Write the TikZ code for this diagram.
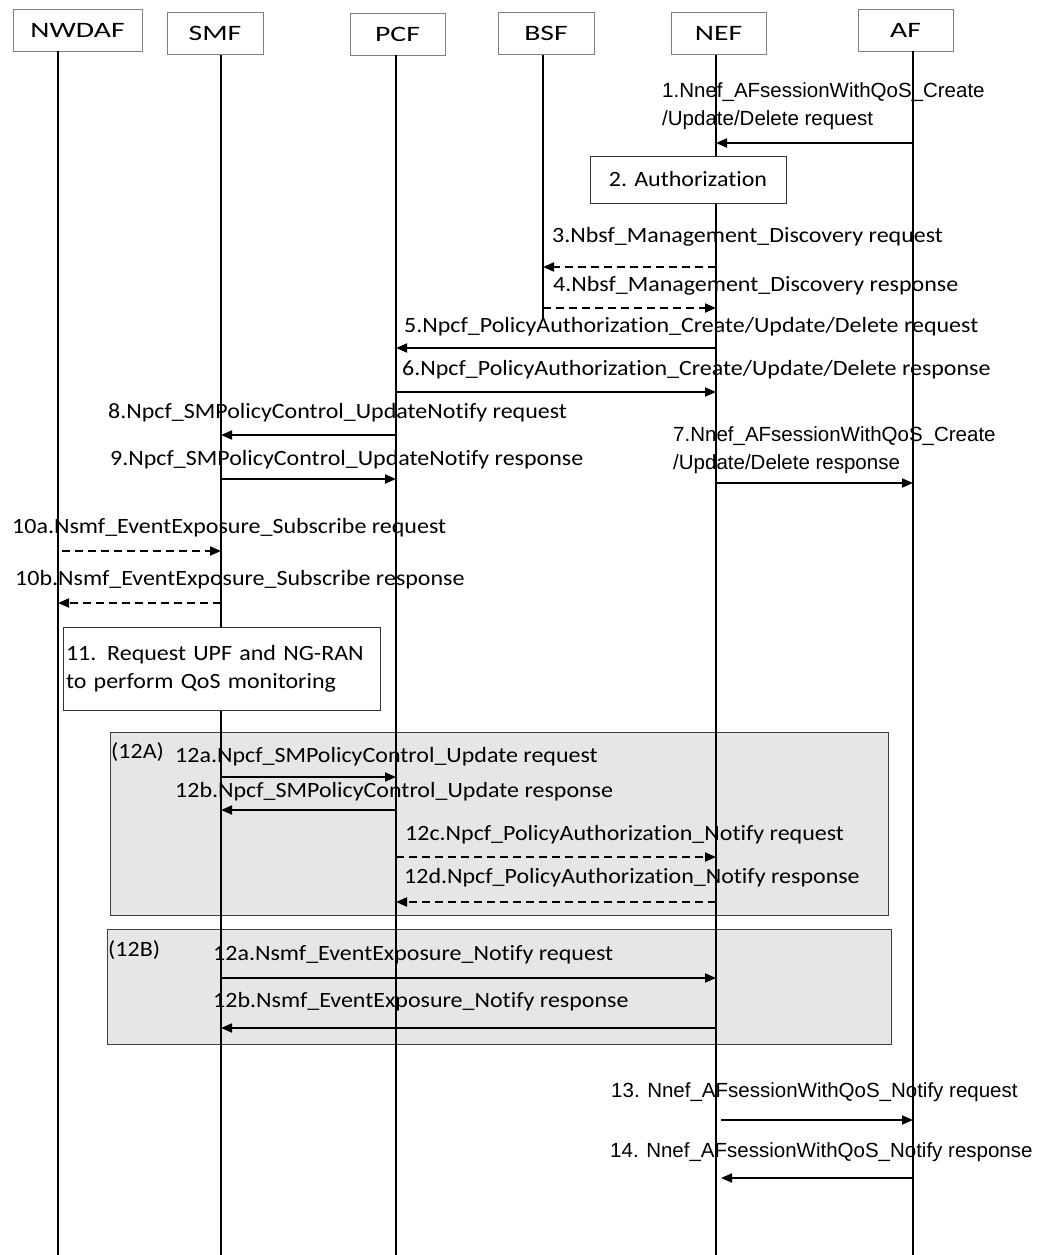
\documentclass[tikz,border=0pt]{standalone}
\usepackage{fontspec}
\setmainfont{Carlito}[FakeStretch=1.1,Ligatures=CommonOff]
\newfontfamily\arialf{Liberation Sans}
\newfontfamily\hdrf{Carlito}[FakeStretch=1.35,Ligatures=CommonOff]
\usetikzlibrary{arrows.meta,calc}
\definecolor{inkc}{HTML}{000000}
\definecolor{framec}{HTML}{808080}
\definecolor{groupc}{HTML}{E6E6E6}
\newcommand{\fs}{\fontsize{21.8}{28}\selectfont}
\tikzset{
  hdr/.style  ={draw=framec,line width=.8pt,fill=white,minimum height=42pt,
                inner sep=0pt,font=\hdrf\fontsize{22}{24}\selectfont},
  procb/.style={draw=inkc!80,line width=.8pt,fill=white,font=\fs},
  grp/.style  ={draw=inkc!75,line width=.8pt,fill=groupc},
  life/.style ={draw=inkc,line width=1.4pt},
  msgl/.style ={font=\fs,inner sep=0pt,anchor=west},
  msgA/.style ={font=\arialf\fontsize{20.5}{28}\selectfont,inner sep=0pt,anchor=west,align=left},
  ar/.style   ={-{Triangle[length=11pt,width=9pt]},draw=inkc,line width=1.8pt},
  arD/.style  ={ar,dash pattern=on 8pt off 5pt},
}

\begin{document}
\begin{tikzpicture}[x=1pt,y=-1pt]
\useasboundingbox[fill=white] (0,0) rectangle (1039,1255);

% ---- lifeline positions --------------------------------------------------
\coordinate (lNW) at (58,0);
\coordinate (lSM) at (221,0);
\coordinate (lPC) at (396,0);
\coordinate (lBS) at (543,0);
\coordinate (lNE) at (716,0);
\coordinate (lAF) at (913,0);
\coordinate (bot) at (0,1255);
\coordinate (bsfEnd) at (543,320);

% ---- option groups (behind everything) -----------------------------------
\draw[grp] (110,732) rectangle (888,915);
\node[msgl] (g12a) at (111,752) {(12A)};
\draw[grp] (107,929) rectangle (891,1044);
\node[msgl] (g12b) at (108,950) {(12B)};

% ---- network functions ---------------------------------------------------
\node[hdr,minimum width=129pt] (nwdaf) at (77.5,30) {NWDAF};
\node[hdr,minimum width=96pt]  (smf)   at (215,33.5) {SMF};
\node[hdr,minimum width=95pt]  (pcf)   at (397.5,34) {PCF};
\node[hdr,minimum width=96pt]  (bsf)   at (546,33.5) {BSF};
\node[hdr,minimum width=95pt]  (nef)   at (718.5,33.5) {NEF};
\node[hdr,minimum width=95pt]  (af)    at (905.5,30) {AF};

\foreach \h/\l in {nwdaf/lNW,smf/lSM,pcf/lPC,nef/lNE,af/lAF}
  \draw[life] (\h.south -| \l) -- (\l |- bot);
\draw[life] (bsf.south -| lBS) -- (bsfEnd);

% ---- local procedures ----------------------------------------------------
\node[procb,minimum width=196pt,minimum height=47pt] (auth) at (688,179.5) {2. Authorization};
\node[procb,minimum width=317pt,minimum height=83pt,text width=311pt,inner xsep=3pt,align=left]
  (mon) at (221.5,668.5) {11. Request UPF and NG-RAN\\to perform QoS monitoring};

% ---- AF request and policy authorization ---------------------------------
\node[msgA] (m1) at (662,106) {1.Nnef\_AFsessionWithQoS\_Create\\/Update/Delete request};
\draw[ar] (lAF |- 0,143) -- (lNE |- 0,143);

\node[msgl] (m3) at (552,237) {3.Nbsf\_Management\_Discovery request};
\draw[arD] (lNE |- 0,267) -- (lBS |- 0,267);
\node[msgl] (m4) at (553,286) {4.Nbsf\_Management\_Discovery response};
\draw[arD] (lBS |- 0,308) -- (lNE |- 0,308);

\node[msgl] (m5) at (404,327) {5.Npcf\_PolicyAuthorization\_Create/Update/Delete request};
\draw[ar] (lNE |- 0,348) -- (lPC |- 0,348);
\node[msgl] (m6) at (402,370) {6.Npcf\_PolicyAuthorization\_Create/Update/Delete response};
\draw[ar] (lPC |- 0,392) -- (lNE |- 0,392);

\node[msgA] (m7) at (673,450) {7.Nnef\_AFsessionWithQoS\_Create\\/Update/Delete response};
\draw[ar] (lNE |- 0,483) -- (lAF |- 0,483);

\node[msgl] (m8) at (108,413) {8.Npcf\_SMPolicyControl\_UpdateNotify request};
\draw[ar] (lPC |- 0,435) -- (lSM |- 0,435);
\node[msgl] (m9) at (110,460) {9.Npcf\_SMPolicyControl\_UpdateNotify response};
\draw[ar] (lSM |- 0,479) -- (lPC |- 0,479);

% ---- event exposure subscription -----------------------------------------
\node[msgl] (m10a) at (12,528) {10a.Nsmf\_EventExposure\_Subscribe request};
\draw[arD,shorten <=4pt] (lNW |- 0,551) -- (lSM |- 0,551);
\node[msgl] (m10b) at (15,580) {10b.Nsmf\_EventExposure\_Subscribe response};
\draw[arD] (lSM |- 0,603) -- (lNW |- 0,603);

% ---- (12A) ---------------------------------------------------------------
\node[msgl] (m12a) at (175,757) {12a.Npcf\_SMPolicyControl\_Update request};
\draw[ar] (lSM |- 0,777) -- (lPC |- 0,777);
\node[msgl] (m12b) at (175,792) {12b.Npcf\_SMPolicyControl\_Update response};
\draw[ar] (lPC |- 0,810) -- (lSM |- 0,810);
\node[msgl] (m12c) at (405,835) {12c.Npcf\_PolicyAuthorization\_Notify request};
\draw[arD] (lPC |- 0,857) -- (lNE |- 0,857);
\node[msgl] (m12d) at (404,878) {12d.Npcf\_PolicyAuthorization\_Notify response};
\draw[arD] (lNE |- 0,902) -- (lPC |- 0,902);

% ---- (12B) ---------------------------------------------------------------
\node[msgl] (n12a) at (213,955) {12a.Nsmf\_EventExposure\_Notify request};
\draw[ar] (lSM |- 0,978) -- (lNE |- 0,978);
\node[msgl] (n12b) at (213,1002) {12b.Nsmf\_EventExposure\_Notify response};
\draw[ar] (lNE |- 0,1028) -- (lSM |- 0,1028);

% ---- notification to AF --------------------------------------------------
\node[msgA] (m13) at (611,1092) {13. Nnef\_AFsessionWithQoS\_Notify request};
\draw[ar,shorten <=5pt] (lNE |- 0,1120) -- (lAF |- 0,1120);
\node[msgA] (m14) at (610,1152) {14. Nnef\_AFsessionWithQoS\_Notify response};
\draw[ar,shorten >=5pt] (lAF |- 0,1178) -- (lNE |- 0,1178);
\end{tikzpicture}
\end{document}
